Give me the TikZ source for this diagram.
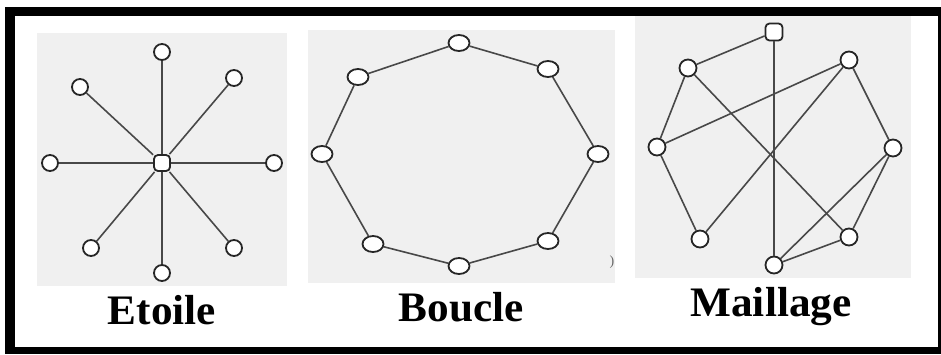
\documentclass[tikz,border=0pt]{standalone}
\usepackage{fontspec}
\setmainfont{Liberation Serif}
\usetikzlibrary{positioning,shapes.geometric}
\definecolor{panel}{HTML}{F0F0F0}
\definecolor{wire}{HTML}{484848}
\definecolor{rim}{HTML}{262626}

\begin{document}
\begin{tikzpicture}[
    x=1pt, y=-1pt,
    vertex/.style={circle, draw=rim, fill=white, line width=1.8pt,
                   inner sep=0pt, minimum size=16pt},
    hub/.style={rectangle, rounded corners=4pt, draw=rim, fill=white,
                line width=1.8pt, inner sep=0pt, minimum size=16pt},
    ring/.style={ellipse, draw=rim, fill=white, line width=1.8pt,
                 inner sep=0pt, minimum width=21pt, minimum height=16pt},
    link/.style={wire, line width=1.6pt},
    title/.style={font=\fontsize{42}{42}\selectfont\bfseries, anchor=base},
    backdrop/.style={fill=panel}
]
\useasboundingbox (0,0) rectangle (941,354);

% Frame and panels
\fill[black] (5,7) rectangle (941,354);
\fill[white] (15,16) rectangle (938,347);
\fill[backdrop] (37,33) rectangle (287,286);
\fill[backdrop] (308,30) rectangle (615,283);
\fill[backdrop] (635,16) rectangle (911,278);

% Etoile
\node[hub] (hubE) at (162,163) {};
\node[vertex] (e1) at (162,52) {};
\node[vertex] (e2) at (234,78) {};
\node[vertex] (e3) at (274,163) {};
\node[vertex] (e4) at (234,248) {};
\node[vertex] (e5) at (162,273) {};
\node[vertex] (e6) at (91,248) {};
\node[vertex] (e7) at (50,163) {};
\node[vertex] (e8) at (80,87) {};

\draw[link] (hubE) -- (e1);
\draw[link] (hubE) -- (e2);
\draw[link] (hubE) -- (e3);
\draw[link] (hubE) -- (e4);
\draw[link] (hubE) -- (e5);
\draw[link] (hubE) -- (e6);
\draw[link] (hubE) -- (e7);
\draw[link] (hubE) -- (e8);

% Boucle
\node[ring] (b1) at (459,43) {};
\node[ring] (b2) at (548,69) {};
\node[ring] (b3) at (598,154) {};
\node[ring] (b4) at (548,241) {};
\node[ring] (b5) at (459,266) {};
\node[ring] (b6) at (373,244) {};
\node[ring] (b7) at (322,154) {};
\node[ring] (b8) at (358,77) {};

\draw[link] (b1) -- (b2);
\draw[link] (b2) -- (b3);
\draw[link] (b3) -- (b4);
\draw[link] (b4) -- (b5);
\draw[link] (b5) -- (b6);
\draw[link] (b6) -- (b7);
\draw[link] (b7) -- (b8);
\draw[link] (b8) -- (b1);

\node[font=\fontsize{14}{14}\selectfont, text=black!60] (mark) at (612,262) {)};

% Maillage
\node[hub, minimum size=17pt] (m1) at (774,32) {};
\node[vertex, minimum size=17pt] (m2) at (849,60) {};
\node[vertex, minimum size=17pt] (m3) at (893,148) {};
\node[vertex, minimum size=17pt] (m4) at (849,237) {};
\node[vertex, minimum size=17pt] (m5) at (774,265) {};
\node[vertex, minimum size=17pt] (m6) at (700,239) {};
\node[vertex, minimum size=17pt] (m7) at (657,147) {};
\node[vertex, minimum size=17pt] (m8) at (688,68) {};

\draw[link] (m1) -- (m8);
\draw[link] (m1) -- (m5);
\draw[link] (m8) -- (m7);
\draw[link] (m8) -- (m4);
\draw[link] (m7) -- (m2);
\draw[link] (m7) -- (m6);
\draw[link] (m2) -- (m3);
\draw[link] (m2) -- (m6);
\draw[link] (m3) -- (m4);
\draw[link] (m3) -- (m5);
\draw[link] (m5) -- (m4);

% Labels
\node[title] (tE) at (162,324) {\scalebox{1.03}[1]{Etoile}};
\node[title] (tB) at (461,321) {\scalebox{1.03}[1]{Boucle}};
\node[title] (tM) at (771,316) {\scalebox{1.03}[1]{Maillage}};

\end{tikzpicture}
\end{document}
